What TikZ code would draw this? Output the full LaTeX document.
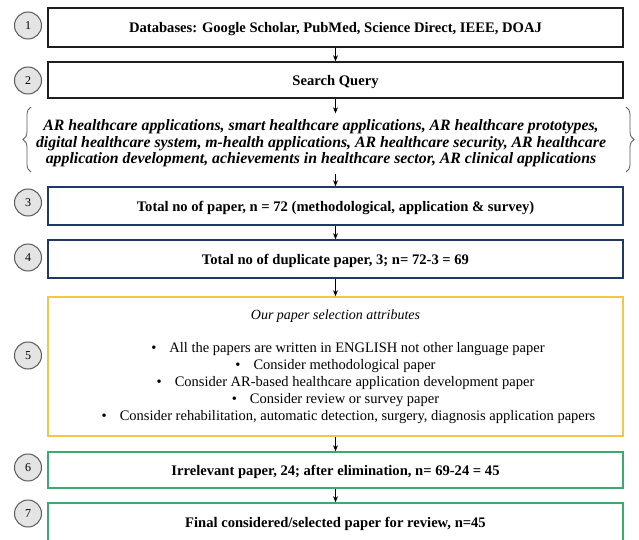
\documentclass[tikz,border=0pt]{standalone}
\usepackage{fontspec}
\setmainfont{Liberation Serif}
\usetikzlibrary{arrows.meta,decorations.pathreplacing}
\definecolor{boxblack}{RGB}{30,30,30}
\definecolor{navy}{RGB}{32,56,100}
\definecolor{gold}{RGB}{240,200,70}
\definecolor{boxgreen}{RGB}{60,170,110}
\definecolor{circfill}{RGB}{228,228,228}
\definecolor{circline}{RGB}{90,90,90}
\tikzset{
  flowbox/.style={draw, line width=1.6pt, minimum width=575pt, inner sep=0pt, align=center,
    font=\fontsize{14.6}{17}\selectfont\bfseries},
  onerow/.style={text height=12.5pt, text depth=1.7pt},
  numcirc/.style={circle, draw=circline, fill=circfill, line width=1pt, minimum size=27pt,
    inner sep=0pt, font=\fontsize{12}{14}\selectfont},
  arr/.style={-{Stealth[length=6pt,width=5pt]}, line width=0.9pt, black},
  bracestyle/.style={decorate, decoration={brace, amplitude=8pt}, draw=circline, line width=0.8pt}
}
\begin{document}
\begin{tikzpicture}[x=1pt,y=-1pt]
\clip (0,0) rectangle (639,540);
\fill[white] (0,0) rectangle (639,540);

\node[flowbox, onerow, draw=boxblack, minimum height=39pt] (b1) at (335.5,27.5)
  {Databases: Google Scholar, PubMed, Science Direct, IEEE, DOAJ};
\node[flowbox, onerow, draw=boxblack, minimum height=36pt] (b2) at (335.5,80)
  {Search Query};
\node[minimum height=60pt, inner sep=0pt, align=center,
  font=\fontsize{15.8}{16.3}\selectfont\bfseries\itshape] (q) at (321,143.5)
  {AR healthcare applications, smart healthcare applications, AR healthcare prototypes,\\
   digital healthcare system, m-health applications, AR healthcare security, AR healthcare\\
   application development, achievements in healthcare sector, AR clinical applications};
\node[flowbox, onerow, draw=navy, minimum height=38pt] (b3) at (335.5,206)
  {Total no of paper, n = 72 (methodological, application \& survey)};
\node[flowbox, onerow, draw=navy, minimum height=38pt] (b4) at (335.5,259)
  {Total no of duplicate paper, 3; n= 72-3 = 69};
\node[flowbox, draw=gold, minimum height=139pt,
  font=\fontsize{14.5}{17}\selectfont] (b5) at (335.5,366.5)
  {{\fontsize{14}{17}\selectfont\itshape Our paper selection attributes}\\[16pt]
   \hspace*{25pt}\textbullet\hspace{13pt}All the papers are written in ENGLISH not other language paper\\
   \textbullet\hspace{13pt}Consider methodological paper\\
   \hspace*{20pt}\textbullet\hspace{13pt}Consider AR-based healthcare application development paper\\
   \textbullet\hspace{13pt}Consider review or survey paper\\
   \hspace*{26pt}\textbullet\hspace{13pt}Consider rehabilitation, automatic detection, surgery, diagnosis application papers};
\node[flowbox, onerow, draw=boxgreen, minimum height=36pt] (b6) at (335.5,470)
  {Irrelevant paper, 24; after elimination, n= 69-24 = 45};
\node[flowbox, onerow, draw=boxgreen, minimum height=38pt] (b7) at (335.5,522)
  {Final considered/selected paper for review, n=45};

\node[numcirc] (n1) at (28,25.5) {1};
\node[numcirc] (n2) at (28,80.5) {2};
\node[numcirc] (n3) at (28,202.5) {3};
\node[numcirc] (n4) at (28,257.5) {4};
\node[numcirc] (n5) at (28,355.5) {5};
\node[numcirc] (n6) at (28,467.5) {6};
\node[numcirc] (n7) at (28,513.5) {7};

\coordinate (lbB) at (31,172);
\coordinate (lbT) at (31,107);
\coordinate (rbT) at (626,107);
\coordinate (rbB) at (626,172);
\draw[bracestyle] (lbB) -- (lbT);
\draw[bracestyle] (rbT) -- (rbB);

\draw[arr] (b1) -- (b2);
\draw[arr] (b2.south) -- (b2.south |- q.north);
\draw[arr] (b2.south |- q.south) -- (b3.north);
\draw[arr] (b3) -- (b4);
\draw[arr] (b4) -- (b5);
\draw[arr] (b5) -- (b6);
\draw[arr] (b6) -- (b7);
\end{tikzpicture}
\end{document}
